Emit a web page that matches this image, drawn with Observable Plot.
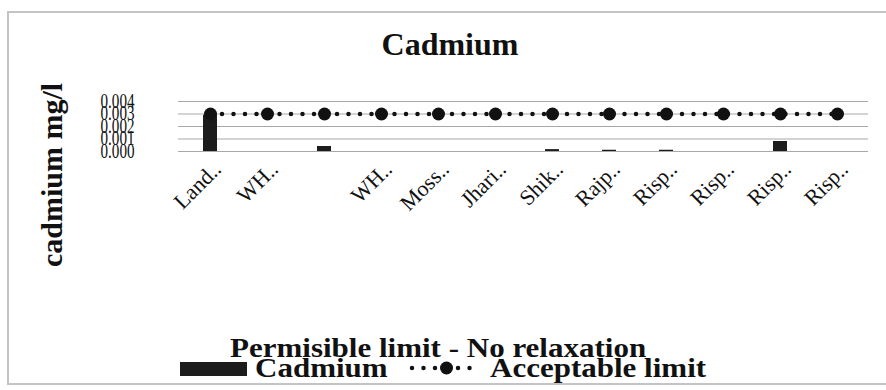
<!DOCTYPE html>
<html>
<head>
<meta charset="utf-8">
<script src="https://cdn.jsdelivr.net/npm/d3@7"></script>
<script src="https://cdn.jsdelivr.net/npm/@observablehq/plot@0.6"></script>
<style>
  html, body { margin: 0; padding: 0; background: #fff; }
  #wrap { position: relative; width: 886px; height: 390px; overflow: hidden; font-family: "Liberation Serif", "Times New Roman", serif; color: #111; }
  #frame { position: absolute; left: 7px; top: 11px; width: 890px; height: 374px; border: 2px solid #c4c4c4; box-sizing: border-box; }
  .t { position: absolute; line-height: 0; white-space: nowrap; font-weight: bold; }
  #plot { position: absolute; left: 0; top: 80px; }
</style>
</head>
<body>
<div id="wrap">
  <div id="frame"></div>
  <div id="plot"></div>
  <div class="t" id="title" style="font-size:32px; left:450px; top:44px; transform:translateX(-50%);">Cadmium</div>
  <div class="t" id="ylab" style="font-size:30px; left:52px; top:175px; transform:translate(-50%,0) rotate(-90deg);">cadmium mg/l</div>
  <div class="t" style="font-size:31px; left:230px; top:346.5px; transform:scaleY(0.85); transform-origin:0 10px;">Permisible limit - No relaxation</div>
  <div style="position:absolute; left:180px; top:362px; width:67px; height:14px; background:#1c1c1c;"></div>
  <div class="t" style="font-size:31px; left:255px; top:366.5px; transform:scaleY(0.85); transform-origin:0 10px;">Cadmium</div>
  <svg style="position:absolute; left:400px; top:356px;" width="80" height="24">
    <line x1="12" x2="70" y1="12" y2="12" stroke="#111" stroke-width="4.5" stroke-linecap="round" stroke-dasharray="0 11.5"></line>
    <circle cx="46.5" cy="12" r="6.5" fill="#111"></circle>
  </svg>
  <div class="t" style="font-size:31px; left:490px; top:366.5px; transform:scaleY(0.85); transform-origin:0 10px;">Acceptable limit</div>
</div>
<script>
// Data
const siteLabels = ["Land..", "WH..", "", "WH..", "Moss..", "Jhari..", "Shik..", "Rajp..", "Risp..", "Risp..", "Risp..", "Risp.."];
const cadmiumValues = [0.0029, 0, 0.0004, 0, 0, 0, 0.00015, 0.0001, 0.0001, 0, 0.0008, 0];
const acceptableLimit = [0.003, 0.003, 0.003, 0.003, 0.003, 0.003, 0.003, 0.003, 0.003, 0.003, 0.003, 0.003];
const yTicks = [0, 0.001, 0.002, 0.003, 0.004];

const rows = siteLabels.map((s, i) => ({i, site: s, cd: cadmiumValues[i], lim: acceptableLimit[i]}));
const fmt = d3.format(".3f");

const chart = Plot.plot({
  width: 886,
  height: 160,
  marginTop: 21,
  marginBottom: 89,
  marginLeft: 178,
  marginRight: 18,
  style: {fontFamily: "'Liberation Serif', 'Times New Roman', serif", background: "transparent", color: "#111", overflow: "visible"},
  x: {type: "band", domain: rows.map(d => d.i), paddingInner: 0.76, paddingOuter: 0.38, label: null, axis: null},
  y: {domain: [0, 0.004], label: null, axis: null},
  marks: [
    Plot.ruleY(yTicks, {stroke: "#a8a8a8", strokeWidth: 1}),
    Plot.barY(rows, {x: "i", y: "cd", fill: "#1c1c1c"}),
    Plot.line(rows, {x: "i", y: "lim", stroke: "#111", strokeWidth: 4.5, strokeLinecap: "round", strokeDasharray: "0 11.5"}),
    Plot.dot(rows, {x: "i", y: "lim", r: 6.5, fill: "#111", stroke: "none"}),
    Plot.text(yTicks, {y: d => d, text: d => fmt(d), frameAnchor: "left", textAnchor: "end", dx: -44, fontSize: 20, fill: "#111", className: "ytick"}),
    Plot.text(rows, {x: "i", text: "site", frameAnchor: "bottom", rotate: -45, textAnchor: "end", dx: 12, dy: 19, fontSize: 22, fill: "#111"})
  ]
});
document.getElementById("plot").appendChild(chart);
d3.select(chart).selectAll('.ytick text')
  .attr("textLength", 34).attr("lengthAdjust", "spacingAndGlyphs");
</script>
</body>
</html>
